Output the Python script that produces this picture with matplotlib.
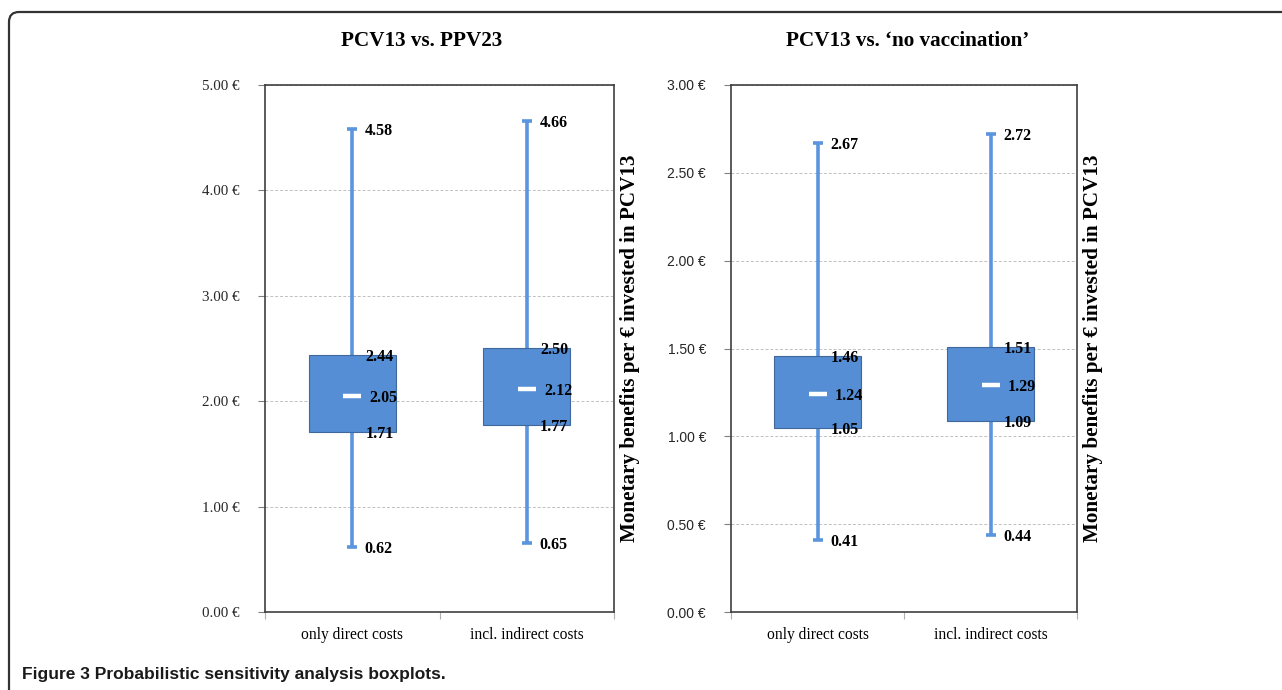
import numpy as np
import matplotlib
matplotlib.use("Agg")
from matplotlib import pyplot as plt
from matplotlib.ticker import FuncFormatter
from matplotlib.path import Path
from matplotlib.patches import PathPatch

# data
categories = ["only direct costs", "incl. indirect costs"]

ppv_min = [0.62, 0.65]
ppv_q1 = [1.71, 1.77]
ppv_med = [2.05, 2.12]
ppv_q3 = [2.44, 2.50]
ppv_max = [4.58, 4.66]

novac_min = [0.41, 0.44]
novac_q1 = [1.05, 1.09]
novac_med = [1.24, 1.29]
novac_q3 = [1.46, 1.51]
novac_max = [2.67, 2.72]

ppv_ticks = [0, 1, 2, 3, 4, 5]
novac_ticks = [0, 0.5, 1.0, 1.5, 2.0, 2.5, 3.0]

W, H = 1282, 690
serif = "Liberation Serif"
sans = "Liberation Sans"
box_col = "#558ED5"
whisk_col = "#5B95DE"
ylab = "Monetary benefits per \u20ac invested in PCV13"

fig = plt.figure(figsize=(W / 100, H / 100), dpi=100)

# frame around the figure (rounded top-left corner)
bg = fig.add_axes([0, 0, 1, 1])
bg.set_xlim(0, W)
bg.set_ylim(H, 0)
bg.axis("off")
frame = Path([(9, H + 5), (9, 22), (9, 12), (19, 12), (W + 5, 12)],
             [Path.MOVETO, Path.LINETO, Path.CURVE3, Path.CURVE3, Path.LINETO])
bg.add_patch(PathPatch(frame, fill=False, edgecolor="#333333", lw=1.6))
bg.text(22, 674, "Figure 3 Probabilistic sensitivity analysis boxplots.",
        family=sans, fontweight="bold", fontsize=12.5, va="center", ha="left",
        color="#1a1a1a")


def draw_panel(ax, lo, q1, med, q3, hi, ticks, title, title_x, tick_font, tick_size):
    x = np.arange(len(categories))
    ax.vlines(x, lo, hi, color=whisk_col, lw=2.6, zorder=2)
    ax.scatter(x, lo, marker="_", s=45, color=whisk_col, linewidths=2.6, zorder=2)
    ax.scatter(x, hi, marker="_", s=45, color=whisk_col, linewidths=2.6, zorder=2)
    ax.bar(x, np.array(q3) - np.array(q1), bottom=q1, width=0.5,
           color=box_col, edgecolor="#41689c", linewidth=0.8, zorder=3)
    ax.scatter(x, med, marker="_", s=150, color="white", linewidths=3.2, zorder=4)

    for i in range(len(categories)):
        for v, dx in [(lo[i], 9), (q1[i], 9.5), (med[i], 12.5), (q3[i], 9.5), (hi[i], 9)]:
            ax.annotate(f"{v:.2f}", (x[i], v), xytext=(dx, 0), textcoords="offset points",
                        ha="left", va="center_baseline", family=serif, fontweight="bold",
                        fontsize=11.5, color="black", zorder=5)

    ax.set_xlim(-0.5, len(categories) - 0.5)
    ax.set_ylim(ticks[0], ticks[-1])
    ax.set_yticks(ticks)
    ax.yaxis.set_major_formatter(FuncFormatter(lambda v, p: f"{v:.2f} \u20ac"))
    ax.tick_params(axis="y", length=5, width=0.8, color="#808080", pad=13,
                   labelsize=tick_size, labelcolor="#262626")
    for lbl in ax.get_yticklabels():
        lbl.set_family(tick_font)

    ax.set_xticks(np.arange(len(categories) + 1) - 0.5)
    ax.set_xticklabels([])
    ax.set_xticks(x, minor=True)
    ax.set_xticklabels(categories, minor=True, family=serif, fontsize=11.2)
    ax.tick_params(axis="x", which="major", length=5, width=0.8, color="#b0b0b0")
    ax.tick_params(axis="x", which="minor", length=0, pad=11)

    ax.grid(axis="y", color="#c0c0c0", linestyle=(0, (3, 2)), lw=0.7, zorder=0)
    ax.set_axisbelow(True)
    for s in ax.spines.values():
        s.set_color("#404040")
        s.set_linewidth(1.2)

    ax.yaxis.set_label_position("right")
    ax.set_ylabel(ylab, family=serif, fontweight="bold", fontsize=15.2, labelpad=4)
    ax.set_title(title, family=serif, fontweight="bold", fontsize=15.2, pad=28, x=title_x)


ax1 = fig.add_axes([265 / W, 1 - 612 / H, 349 / W, 527 / H])
draw_panel(ax1, ppv_min, ppv_q1, ppv_med, ppv_q3, ppv_max, ppv_ticks,
           "PCV13 vs. PPV23", 0.45, serif, 10.8)

ax2 = fig.add_axes([731 / W, 1 - 612 / H, 346 / W, 527 / H])
draw_panel(ax2, novac_min, novac_q1, novac_med, novac_q3, novac_max, novac_ticks,
           "PCV13 vs. \u2018no vaccination\u2019", 0.51, sans, 10)

fig.savefig("out.png", dpi=100)
